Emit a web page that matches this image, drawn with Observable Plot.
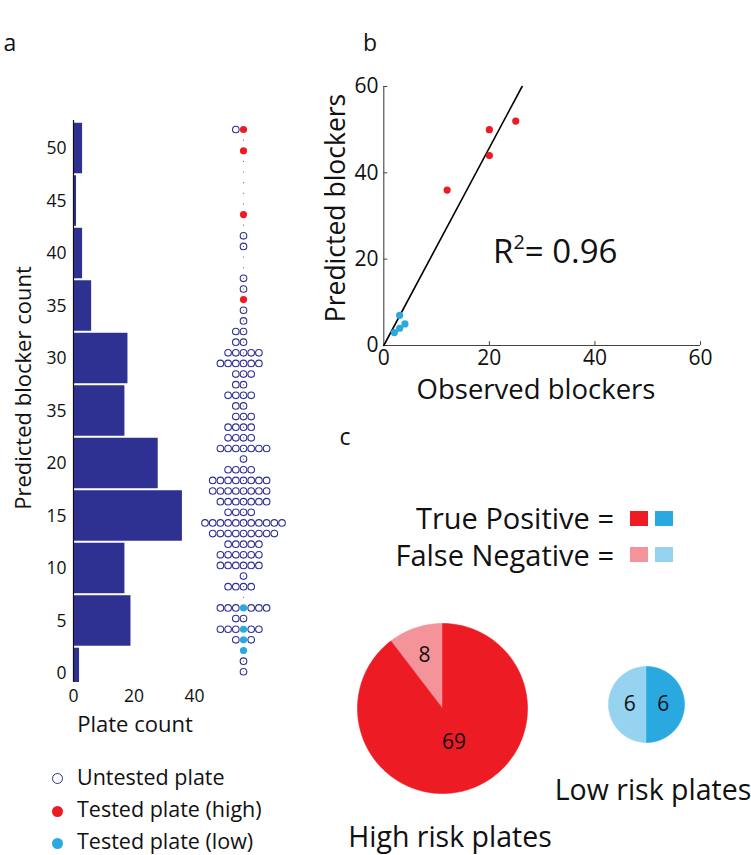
<!DOCTYPE html>
<html>
<head>
<meta charset="utf-8">
<script src="https://cdn.jsdelivr.net/npm/d3@7"></script>
<script src="https://cdn.jsdelivr.net/npm/@observablehq/plot@0.6"></script>
<style>
  html, body { margin: 0; padding: 0; background: #fff; }
  #root { position: relative; width: 751px; height: 855px; overflow: hidden; font-family: "Open Sans", sans-serif; color: #111; }
  .t { position: absolute; white-space: nowrap; line-height: 1; }
  .sq { position: absolute; width: 18px; height: 15px; }
  .mk { position: absolute; width: 11px; height: 11px; border-radius: 50%; box-sizing: border-box; }
</style>
</head>
<body>
<div id="root"></div>
<script>
// ---------- DATA ----------
// Panel a: histogram of predicted blocker count (bins of width 5, centered on tick values)
const histBins = [0, 5, 10, 15, 20, 25, 30, 35, 40, 45, 50];
const histCounts = [2, 19, 17, 36, 28, 17, 18, 6, 3, 1, 3];
const histTickValues = [0, 5, 10, 15, 20, 25, 30, 35, 40, 45, 50];
const histTickLabels = ["0", "5", "10", "15", "20", "35", "30", "35", "40", "45", "50"];
const plateCountTicks = [0, 20, 40];

// Panel a: plates per predicted blocker count (dot column)
const swarmRows   = [52, 50, 44, 42, 41, 38, 37, 36, 35, 34, 33, 32, 31, 30, 29, 28, 27, 26, 25, 24, 23, 22, 21, 20, 19, 18, 17, 16, 15, 14, 13, 12, 11, 10, 9, 7, 6, 5, 4, 3, 2, 1];
const swarmCounts = [ 2,  1,  1,  1,  1,  1,  1,  1,  1,  1,  2,  2,  5,  6,  3,  2,  4,  2,  3,  4,  4,  7,  1,  4,  8,  8,  7,  4, 11,  9,  5,  6,  6,  1, 4, 7, 2, 6, 3, 1, 1, 1];
const testedHighRows = [52, 50, 44, 36];
const testedLowRows  = [7, 5, 4, 3];

// Panel b: observed vs predicted blockers
const highObserved  = [25, 20, 20, 12];
const highPredicted = [52, 50, 44, 36];
const lowObserved   = [3, 2, 3, 4];
const lowPredicted  = [7, 3, 4, 5];
const fitObserved   = [0, 26.2];
const fitPredicted  = [0, 60];
const bTicks = [0, 20, 40, 60];
const rSquared = "0.96";

// Panel c: pies
const highTruePositive = 69, highFalseNegative = 8;
const lowTruePositive = 6, lowFalseNegative = 6;

// ---------- STYLE ----------
const NAVY = "#2e3192";
const RED = "#ed1c24", RED_L = "#f4939a";
const BLUE = "#29a9e0", BLUE_L = "#95d3f0";
const FONT = "'Open Sans', sans-serif";

const root = document.getElementById("root");
function place(svg, left, top) {
  svg.style.position = "absolute";
  svg.style.left = left + "px";
  svg.style.top = top + "px";
  root.appendChild(svg);
}
function text(str, x, y, size, opts = {}) {
  const d = document.createElement("div");
  d.className = "t";
  d.innerHTML = str;
  d.style.fontSize = size + "px";
  d.style.left = x + "px";
  d.style.top = y + "px";
  const ax = opts.anchor === "start" ? "0" : opts.anchor === "end" ? "-100%" : "-50%";
  d.style.transform = `translate(${ax}, -50%)` + (opts.rotate ? ` rotate(${opts.rotate}deg)` : "");
  root.appendChild(d);
  return d;
}
const baseStyle = { fontFamily: FONT, background: "none", overflow: "visible", color: "#111" };

// ---------- PANEL a: histogram ----------
const hist = histBins.map((b, i) => ({ lo: b - 2.5, hi: b + 2.5, n: histCounts[i] }));
const histPlot = Plot.plot({
  width: 230, height: 720,
  marginLeft: 73, marginRight: 36, marginTop: 120, marginBottom: 38,
  style: { ...baseStyle, fontSize: "17.5px" },
  x: { domain: [0, 40], ticks: plateCountTicks, tickSize: 0, tickPadding: 7, label: null },
  y: { domain: [-0.86, 52.67], ticks: histTickValues, tickSize: 0, tickPadding: 7, label: null,
       tickFormat: v => histTickLabels[histTickValues.indexOf(v)] },
  marks: [
    Plot.rectX(hist, { y1: "lo", y2: "hi", x: "n", fill: NAVY, insetTop: 1, insetBottom: 1, clip: true }),
    Plot.ruleX([0], { y1: -0.86, y2: 52.67, stroke: "#111", strokeWidth: 1.2 })
  ]
});
place(histPlot, 0, 0);

// ---------- PANEL a: dot column ----------
const dots = [];
swarmRows.forEach((row, i) => {
  for (let k = 0; k < swarmCounts[i]; k++) {
    const off = k === 0 ? 0 : (k % 2 === 1 ? -(k + 1) / 2 : k / 2);
    let kind = "untested";
    if (k === 0 && testedHighRows.includes(row)) kind = "high";
    if (k === 0 && testedLowRows.includes(row)) kind = "low";
    dots.push({ row, off, kind });
  }
});
const guideRows = d3.range(1, 53);
const swarmPlot = Plot.plot({
  width: 110, height: 600, margin: 0,
  style: baseStyle,
  x: { domain: [-1, 1], range: [53 - 7.7, 53 + 7.7], axis: null },
  y: { domain: [3, 52], range: [550, 29], axis: null },
  marks: [
    Plot.dot(guideRows, { x: 0, y: d => d, r: 0.6, fill: "#6a6c8a", stroke: "none" }),
    Plot.dot(dots.filter(d => d.kind === "untested"), { x: "off", y: "row", r: 3.3, stroke: NAVY, strokeWidth: 1.1, fill: "none" }),
    Plot.dot(dots.filter(d => d.kind === "high"), { x: "off", y: "row", r: 3.6, fill: RED, stroke: "none" }),
    Plot.dot(dots.filter(d => d.kind === "low"), { x: "off", y: "row", r: 3.6, fill: BLUE, stroke: "none" })
  ]
});
place(swarmPlot, 190, 100);

// Panel a labels
text("Predicted blocker count", 22, 388, 22, { rotate: -90 });
text("Plate count", 135, 723, 22);

// Panel a legend
function marker(x, y, style) {
  const m = document.createElement("div");
  m.className = "mk";
  m.style.left = (x - 5.5) + "px";
  m.style.top = (y - 5.5) + "px";
  Object.assign(m.style, style);
  root.appendChild(m);
}
marker(57, 778, { border: `1.3px solid ${NAVY}`, background: "#fff" });
marker(57, 811, { background: RED });
marker(57, 843, { background: BLUE });
text("Untested plate", 77, 777, 21.5, { anchor: "start" });
text("Tested plate (high)", 77, 809, 21.5, { anchor: "start" });
text("Tested plate (low)", 77, 841, 21.5, { anchor: "start" });

// ---------- PANEL b ----------
const high = highObserved.map((x, i) => ({ x, y: highPredicted[i] }));
const low = lowObserved.map((x, i) => ({ x, y: lowPredicted[i] }));
const fit = fitObserved.map((x, i) => ({ x, y: fitPredicted[i] }));
const bPlot = Plot.plot({
  width: 430, height: 350,
  marginLeft: 83, marginRight: 30, marginTop: 46, marginBottom: 45,
  style: { ...baseStyle, fontSize: "21px" },
  x: { domain: [0, 60], range: [83.3, 400], ticks: bTicks, tickSize: 0, tickPadding: 5, label: null },
  y: { domain: [0, 60], range: [305, 46], ticks: bTicks, tickSize: 0, tickPadding: 5, label: null },
  marks: [
    Plot.ruleY([0], { x1: 0, x2: 60, stroke: "#444", strokeWidth: 1.1 }),
    Plot.ruleX([0], { y1: 0, y2: 60, stroke: "#444", strokeWidth: 1.1 }),
    Plot.ruleX(bTicks.slice(1), { y1: 0, y2: 0.9, stroke: "#444" }),
    Plot.ruleY(bTicks.slice(1), { x1: 0, x2: 0.75, stroke: "#444" }),
    Plot.line(fit, { x: "x", y: "y", stroke: "#000", strokeWidth: 1.6 }),
    Plot.dot(high, { x: "x", y: "y", r: 3.6, fill: RED, stroke: "none" }),
    Plot.dot(low, { x: "x", y: "y", r: 3.6, fill: BLUE, stroke: "none" })
  ]
});
place(bPlot, 300, 40);
text("Predicted blockers", 335, 208, 26.5, { rotate: -90 });
text("Observed blockers", 536, 389, 27.5);
text(`R<sup style="font-size:60%;vertical-align:0;position:relative;top:-0.7em">2</sup>= ${rSquared}`, 493, 250, 33, { anchor: "start" });

// ---------- PANEL c ----------
text("True Positive =", 614, 517, 29, { anchor: "end" });
text("False Negative =", 614, 554, 29, { anchor: "end" });
function square(x, y, c) {
  const s = document.createElement("div");
  s.className = "sq";
  s.style.left = x + "px"; s.style.top = y + "px"; s.style.background = c;
  root.appendChild(s);
}
square(630, 511, RED); square(655, 511, BLUE);
square(630, 547, RED_L); square(655, 547, BLUE_L);

function piePlot(tp, fn, colors, r, labelRadii, fontSize) {
  const total = tp + fn;
  const parts = [
    { key: "fn", v: fn, a0: -fn / total * 2 * Math.PI, a1: 0, color: colors[1], lr: labelRadii[1] },
    { key: "tp", v: tp, a0: 0, a1: tp / total * 2 * Math.PI, color: colors[0], lr: labelRadii[0] }
  ];
  const marks = [];
  const labels = [];
  for (const p of parts) {
    const pts = [{ x: 0, y: 0 }];
    const n = Math.max(2, Math.ceil((p.a1 - p.a0) / (Math.PI / 120)));
    for (let i = 0; i <= n; i++) {
      const a = p.a0 + (p.a1 - p.a0) * i / n;
      pts.push({ x: Math.sin(a), y: Math.cos(a) });
    }
    pts.push({ x: 0, y: 0 });
    marks.push(Plot.line(pts, { x: "x", y: "y", fill: p.color, stroke: p.color, strokeWidth: 0.6 }));
    const am = (p.a0 + p.a1) / 2;
    labels.push({ x: p.lr * Math.sin(am), y: p.lr * Math.cos(am), t: String(p.v) });
  }
  marks.push(Plot.text(labels, { x: "x", y: "y", text: "t", fontSize, fill: "#111" }));
  return Plot.plot({
    width: 2 * r + 4, height: 2 * r + 4, margin: 2,
    style: baseStyle,
    x: { domain: [-1, 1], axis: null },
    y: { domain: [-1, 1], axis: null },
    marks
  });
}
const bigR = 85, smallR = 38;
place(piePlot(highTruePositive, highFalseNegative, [RED, RED_L], bigR, [0.42, 0.66], 21), 442 - bigR - 2, 708 - bigR - 2);
place(piePlot(lowTruePositive, lowFalseNegative, [BLUE, BLUE_L], smallR, [0.44, 0.44], 21), 646 - smallR - 2, 704 - smallR - 2);
text("High risk plates", 450, 836, 28.5);
text("Low risk plates", 653, 789, 28.5);

// Panel letters
text("a", 10, 42, 23);
text("b", 370, 42, 23);
text("c", 345, 436, 23);
</script>
</body>
</html>
